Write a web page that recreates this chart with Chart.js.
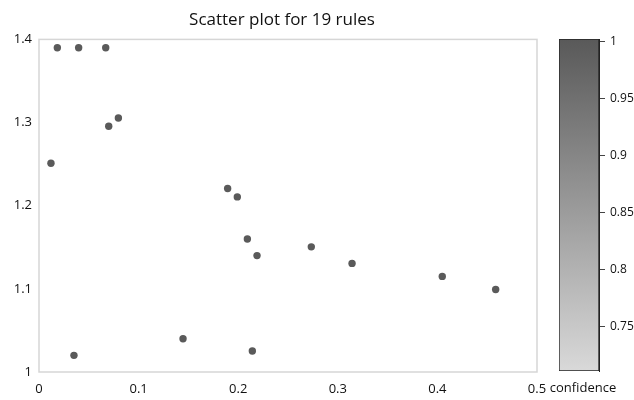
<!DOCTYPE html>
<html lang="en">
<head>
    <meta charset="UTF-8">
    <title>Scatter plot for 19 rules</title>
    <style>
        body { margin: 0; background: #fff; }
        #wrap { position: relative; width: 634px; height: 400px; }
        #mainChart { position: absolute; left: 0; top: 0; }
        #colorBar { position: absolute; left: 540px; top: 0; }
    </style>
    <script src="https://cdn.jsdelivr.net/npm/chart.js"></script>
</head>
<body>
    <div id="wrap">
        <canvas id="mainChart" width="634" height="400"></canvas>
        <canvas id="colorBar" width="94" height="400"></canvas>
    </div>

    <script>
        // rules: support (x), lift (y), confidence (colour)
        const ruleSupport = [0.0184, 0.0398, 0.067, 0.070, 0.0797, 0.012, 0.1894, 0.1991, 0.2092,
                             0.2189, 0.2734, 0.3143, 0.4049, 0.4585, 0.1446, 0.2142, 0.0351];
        const ruleLift = [1.39, 1.39, 1.39, 1.2955, 1.3055, 1.251, 1.2207, 1.2106, 1.160,
                          1.140, 1.1505, 1.1306, 1.115, 1.0993, 1.040, 1.0252, 1.020];
        const ruleConfidence = [1, 1, 1, 1, 1, 1, 1, 1, 1, 1, 1, 1, 1, 1, 1, 1, 1];

        const colorBarMin = 0.711;
        const colorBarMax = 1.0024;
        const colorBarTicks = [0.75, 0.8, 0.85, 0.9, 0.95, 1];

        const lowGray = 217, highGray = 89;
        const fontFamily = "'Open Sans', 'Noto Sans', sans-serif";

        function confidenceColor(c) {
            const t = Math.max(0, Math.min(1, (c - colorBarMin) / (colorBarMax - colorBarMin)));
            const g = Math.round(lowGray + (highGray - lowGray) * t);
            return `rgb(${g},${g},${g})`;
        }

        function plainNumber(v) {
            return String(+Number(v).toFixed(2));
        }

        const points = ruleSupport.map((s, i) => ({ x: s, y: ruleLift[i] }));

        const plotBox = {
            id: 'plotBox',
            afterDraw(chart) {
                const a = chart.chartArea;
                const c = chart.ctx;
                c.save();
                c.strokeStyle = '#d6d6d6';
                c.lineWidth = 1.5;
                c.strokeRect(a.left, a.top, a.right - a.left, a.bottom - a.top);
                c.restore();
            }
        };

        new Chart(document.getElementById('mainChart'), {
            type: 'scatter',
            data: {
                datasets: [{
                    data: points,
                    pointRadius: 3.7,
                    pointHoverRadius: 3.7,
                    borderWidth: 0,
                    backgroundColor: ruleConfidence.map(confidenceColor)
                }]
            },
            options: {
                responsive: false,
                animation: false,
                layout: { padding: { left: 0, right: 70, top: 0, bottom: 0 } },
                plugins: {
                    legend: { display: false },
                    tooltip: { enabled: false },
                    title: {
                        display: true,
                        text: 'Scatter plot for 19 rules',
                        color: '#111',
                        font: { family: fontFamily, size: 17, weight: 'normal' },
                        padding: { top: 10, bottom: 9 }
                    }
                },
                scales: {
                    x: {
                        type: 'linear',
                        min: 0,
                        max: 0.5,
                        grid: { display: false, drawTicks: false },
                        border: { display: false },
                        ticks: {
                            stepSize: 0.1,
                            padding: 9,
                            color: '#111',
                            font: { family: fontFamily, size: 13 },
                            callback: plainNumber
                        },
                        afterFit(scale) { scale.height = 28; }
                    },
                    y: {
                        min: 1,
                        max: 1.4,
                        grid: { display: false, drawTicks: false },
                        border: { display: false },
                        ticks: {
                            stepSize: 0.1,
                            padding: 7,
                            color: '#111',
                            font: { family: fontFamily, size: 13 },
                            callback: plainNumber
                        },
                        afterFit(scale) { scale.width = 39; }
                    },
                    // empty spacer so the title centres like the original
                    spacer: {
                        position: 'right',
                        grid: { display: false, drawTicks: false },
                        border: { display: false },
                        ticks: { display: false },
                        afterFit(scale) { scale.width = 27; }
                    }
                }
            },
            plugins: [plotBox]
        });

        new Chart(document.getElementById('colorBar'), {
            type: 'bar',
            data: {
                labels: ['confidence'],
                datasets: [{
                    data: [[colorBarMin, colorBarMax]],
                    barPercentage: 1,
                    categoryPercentage: 1,
                    borderWidth: 1,
                    borderColor: '#222',
                    borderSkipped: false,
                    backgroundColor(ctx) {
                        const a = ctx.chart.chartArea;
                        if (!a) return '#999';
                        const g = ctx.chart.ctx.createLinearGradient(0, a.bottom, 0, a.top);
                        g.addColorStop(0, confidenceColor(colorBarMin));
                        g.addColorStop(1, confidenceColor(colorBarMax));
                        return g;
                    }
                }]
            },
            options: {
                responsive: false,
                animation: false,
                layout: { padding: { left: 19, right: 0, top: 39, bottom: 0 } },
                plugins: {
                    legend: { display: false },
                    tooltip: { enabled: false }
                },
                scales: {
                    x: {
                        grid: { display: false, drawTicks: false },
                        border: { display: false },
                        ticks: {
                            padding: 9,
                            maxRotation: 0,
                            labelOffset: 4,
                            color: '#111',
                            font: { family: fontFamily, size: 13 }
                        },
                        afterFit(scale) {
                            scale.height = 29;
                            scale.paddingLeft = 0;
                            scale.paddingRight = 0;
                        }
                    },
                    y: {
                        position: 'right',
                        min: colorBarMin,
                        max: colorBarMax,
                        grid: { display: true, drawOnChartArea: false, drawTicks: true, tickLength: 6, color: '#444' },
                        border: { display: true, color: '#222' },
                        ticks: {
                            padding: 5,
                            color: '#111',
                            font: { family: fontFamily, size: 12 },
                            callback: plainNumber
                        },
                        afterBuildTicks(scale) {
                            scale.ticks = colorBarTicks.map(v => ({ value: v }));
                        },
                        afterFit(scale) { scale.width = 35; }
                    }
                }
            }
        });
    </script>
</body>
</html>
